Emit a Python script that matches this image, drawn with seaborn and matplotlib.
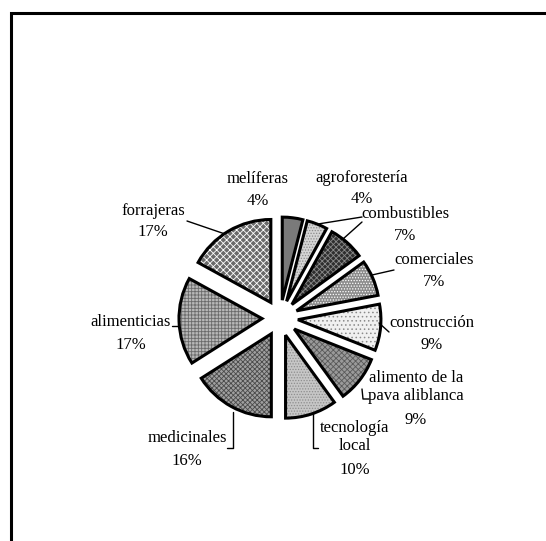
import matplotlib
matplotlib.use("Agg")
import matplotlib.pyplot as plt
import seaborn as sns
from matplotlib.lines import Line2D
from matplotlib.patches import Rectangle

# ---- data ----
categories = ["melíferas", "agroforestería", "combustibles", "comerciales",
              "construcción", "alimento de la\npava aliblanca", "tecnología\nlocal",
              "medicinales", "alimenticias", "forrajeras"]
values = [4, 4, 7, 7, 9, 9, 10, 16, 17, 17]

# ---- styles ----
face_colors = ["#7a7a7a", "#d4d4d4", "#2e2e2e", "#8c8c8c", "#f0f0f0",
               "#9a9a9a", "#c6c6c6", "#a0a0a0", "#b8b8b8", "#6a6a6a"]
hatch_colors = ["#6a6a6a", "#8a8a8a", "#8a8a8a", "#ffffff", "#8a8a8a",
                "#5a5a5a", "#8e8e8e", "#4a4a4a", "#6a6a6a", "#ffffff"]
hatches = ["", "......", "xxxxxx", "......", "....", "xxxxxx", "......",
           "xxxxxxx", "+++++", "xxxxx"]

sns.set_theme(style="white")
plt.rcParams["font.family"] = ["Liberation Serif", "DejaVu Serif"]
plt.rcParams["hatch.linewidth"] = 0.6

W, H = 546, 541
fig = plt.figure(figsize=(W / 100, H / 100), dpi=100)
ax = fig.add_axes([0, 0, 1, 1])

cx, cy = 280, H - 318
R = 83
offset = 18  # explode distance (data units = pixels)

# textured fill layer
wedges, _ = ax.pie(values, explode=[offset] * len(values), startangle=90,
                   counterclock=False, radius=R, center=(cx, cy),
                   colors=face_colors, frame=True, wedgeprops=dict(linewidth=0))
for w, hc, h in zip(wedges, hatch_colors, hatches):
    if h:
        w.set_hatch(h)
        w.set_edgecolor(hc)
        w.set_linewidth(0)
# outline layer
ax.pie(values, explode=[offset] * len(values), startangle=90, counterclock=False,
       radius=R, center=(cx, cy), colors=["none"] * len(values), frame=True,
       wedgeprops=dict(linewidth=2.2, edgecolor="black", facecolor="none"))
ax.set_xlim(0, W)
ax.set_ylim(0, H)
ax.set_aspect("equal")
ax.axis("off")

# labels (x, name y, percent y) in image pixel coords
label_pos = [
    (258, 179, 201),
    (362, 178, 199),
    (405, 214, 236),
    (434, 260, 282),
    (432, 323, 345),
    (416, 387, 420),
    (355, 437, 470),
    (187, 438, 461),
    (131, 322, 345),
    (153, 211, 232),
]
fs = 12
for cat, v, (x, y1, y2) in zip(categories, values, label_pos):
    ax.text(x, H - y1, cat, ha="center", va="center", fontsize=fs, color="black",
            linespacing=1.2)
    ax.text(x, H - y2, f"{v}%", ha="center", va="center", fontsize=fs, color="black")

# leader lines
leaders = [
    [(187, 221), (225, 234)],
    [(318, 224), (362, 217)],
    [(343, 239), (362, 222)],
    [(372, 275), (394, 270)],
    [(379, 323), (389, 332)],
    [(362, 389), (363, 399), (369, 399)],
    [(313, 412), (313, 448), (318, 448)],
    [(233, 412), (233, 448), (227, 448)],
    [(172, 326), (178, 326)],
]
for pts in leaders:
    xs = [p[0] for p in pts]
    ys = [H - p[1] for p in pts]
    ax.add_line(Line2D(xs, ys, color="black", lw=1.0))

# outer frame (extends beyond right and bottom)
ax.add_patch(Rectangle((11, -20), W + 20, H - 13 + 20, fill=False, lw=2.2,
                       edgecolor="black", clip_on=False))

fig.savefig("out.png", dpi=100)
